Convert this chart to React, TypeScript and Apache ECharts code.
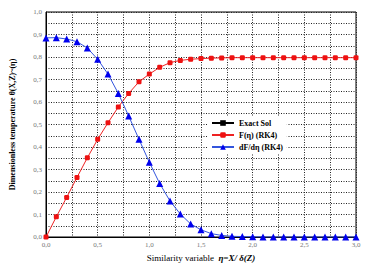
import React, { useEffect, useRef } from "react";
import * as echarts from "echarts";

const etaValues = [0, 0.1, 0.2, 0.3, 0.4, 0.5, 0.6, 0.7, 0.8, 0.9, 1.0, 1.1, 1.2, 1.3, 1.4, 1.5, 1.6, 1.7, 1.8, 1.9, 2.0, 2.1, 2.2, 2.3, 2.4, 2.5, 2.6, 2.7, 2.8, 2.9, 3.0];
const fValues = [0, 0.09, 0.176, 0.265, 0.352, 0.434, 0.508, 0.578, 0.638, 0.69, 0.724, 0.754, 0.775, 0.785, 0.79, 0.793, 0.795, 0.796, 0.797, 0.797, 0.797, 0.797, 0.797, 0.797, 0.797, 0.797, 0.797, 0.797, 0.797, 0.797, 0.797];
const dfValues = [0.885, 0.886, 0.88, 0.868, 0.84, 0.79, 0.724, 0.638, 0.538, 0.434, 0.332, 0.238, 0.16, 0.102, 0.058, 0.032, 0.015, 0.007, 0.003, 0.002, 0.001, 0, 0, 0, 0, 0, 0, 0, 0, 0, 0];
const exactValues: number[] = [];
const seriesNames = ["Exact Sol", "F(η) (RK4)", "dF/dη (RK4)"];

const fmt = (v: number, step: number) => {
  const r = Math.round(v / step);
  if (Math.abs(v / step - r) > 1e-6) return "";
  return v.toFixed(1).replace(".", ",");
};

export default function App() {
  const ref = useRef<HTMLDivElement>(null);
  useEffect(() => {
    if (!ref.current) return;
    const chart = echarts.init(ref.current, undefined, { renderer: "svg" });
    const serif = "'Liberation Serif', 'DejaVu Serif', serif";
    chart.setOption({
      animation: false,
      backgroundColor: "#fff",
      grid: { left: 44, right: 12, top: 12, bottom: 30, show: true, borderColor: "#000", borderWidth: 1, backgroundColor: "transparent" },
      legend: {
        orient: "vertical",
        left: 207,
        top: 116,
        itemWidth: 22,
        itemHeight: 7,
        itemGap: 4,
        padding: [3, 4, 3, 4],
        backgroundColor: "#fff",
        textStyle: { fontFamily: serif, fontSize: 8, fontWeight: "bold", color: "#000" },
        data: seriesNames,
      },
      xAxis: {
        type: "value",
        min: 0,
        max: 3,
        interval: 0.25,
        name: "Similarity variable  {b|η=X/ δ(Z)}",
        nameLocation: "middle",
        nameGap: 16,
        nameTextStyle: {
          fontFamily: serif,
          fontSize: 9,
          color: "#000",
          rich: { b: { fontFamily: serif, fontSize: 9, fontWeight: "bold", fontStyle: "italic", color: "#000" } },
        },
        axisLine: { show: true, lineStyle: { color: "#000" } },
        axisTick: { show: false },
        axisLabel: { fontFamily: serif, fontSize: 7, color: "#777", margin: 4, formatter: (v: number) => fmt(v, 0.5) },
        splitLine: { show: true, lineStyle: { color: "#222", type: [1, 1.5], width: 1 } },
      },
      yAxis: {
        type: "value",
        min: 0,
        max: 1,
        interval: 0.05,
        name: "Dimensionless temperature θ(X,Z)~(η)",
        nameLocation: "middle",
        nameGap: 30,
        nameTextStyle: { fontFamily: serif, fontSize: 8, fontWeight: "bold", color: "#000" },
        axisLine: { show: true, lineStyle: { color: "#000" } },
        axisTick: { show: false },
        axisLabel: { fontFamily: serif, fontSize: 7, color: "#777", margin: 4, formatter: (v: number) => fmt(v, 0.1) },
        splitLine: { show: true, lineStyle: { color: "#222", type: [1, 1.5], width: 1 } },
      },
      series: [
        {
          name: seriesNames[0],
          type: "line",
          data: exactValues.map((v, i) => [etaValues[i], v]),
          symbol: "rect",
          symbolSize: 6,
          itemStyle: { color: "#000" },
          lineStyle: { color: "#000", width: 1 },
        },
        {
          name: seriesNames[1],
          type: "line",
          data: fValues.map((v, i) => [etaValues[i], v]),
          symbol: "roundRect",
          symbolSize: 5,
          itemStyle: { color: "#ee1111" },
          lineStyle: { color: "#ee2222", width: 1 },
          z: 3,
        },
        {
          name: seriesNames[2],
          type: "line",
          data: dfValues.map((v, i) => [etaValues[i], v]),
          symbol: "triangle",
          symbolSize: 7,
          itemStyle: { color: "#0000ee" },
          lineStyle: { color: "#3355dd", width: 1 },
          z: 4,
        },
      ],
    });
    return () => chart.dispose();
  }, []);
  return <div ref={ref} style={{ position: "fixed", left: 0, top: 0, width: 368, height: 267 }} />;
}
